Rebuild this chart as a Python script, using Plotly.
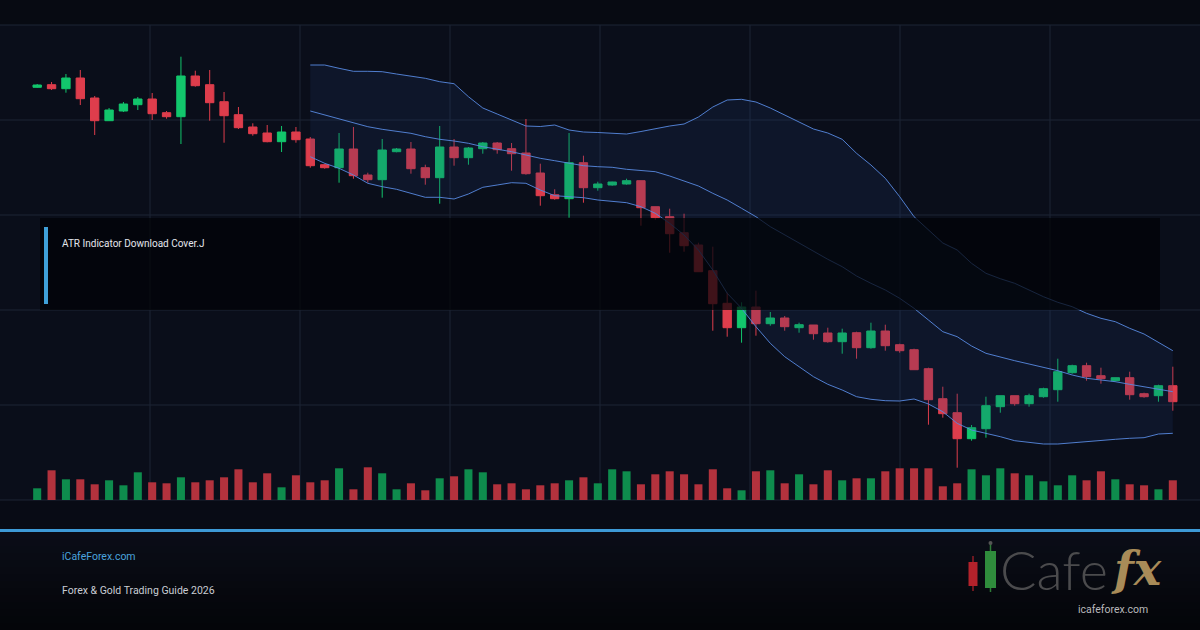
import plotly.graph_objects as go

# ---------------- data ----------------
bar_index = list(range(80))

open_ = [412.7, 415.3, 411.3, 422.0, 402.0, 379.3, 389.0, 395.3, 401.0, 387.3,
         383.3, 424.0, 415.3, 398.3, 385.3, 373.0, 367.0, 358.3, 368.0, 361.0,
         335.3, 332.3, 351.0, 325.0, 320.3, 348.3, 351.0, 332.3, 322.3, 353.0,
         342.3, 351.3, 357.0, 351.3, 347.0, 327.0, 305.3, 301.3, 337.3, 312.3,
         315.0, 316.0, 319.3, 293.3, 283.3, 267.3, 255.0, 229.3, 196.7, 172.3,
         193.0, 176.3, 182.0, 172.3, 175.0, 167.0, 158.3, 167.3, 152.3, 169.0,
         155.3, 150.3, 131.3, 101.3, 87.3, 61.3, 71.3, 93.3, 104.3, 96.3,
         103.3, 110.3, 127.3, 134.3, 124.3, 119.3, 122.3, 106.3, 104.3, 114.3]

high = [416.0, 418.0, 426.0, 430.0, 404.0, 392.0, 398.0, 403.0, 407.0, 389.0,
        443.3, 429.3, 430.0, 408.0, 393.0, 376.7, 375.0, 374.0, 373.0, 363.0,
        336.3, 367.0, 373.0, 327.3, 361.0, 352.0, 358.0, 335.3, 374.0, 361.0,
        353.0, 358.0, 358.0, 357.0, 381.0, 336.3, 310.7, 367.0, 344.3, 318.3,
        318.3, 321.3, 319.3, 293.3, 291.3, 286.3, 257.3, 253.3, 207.3, 197.7,
        209.3, 188.0, 184.0, 177.3, 175.0, 172.3, 171.3, 168.3, 177.3, 175.3,
        156.3, 151.3, 132.3, 113.3, 106.3, 75.0, 103.3, 104.3, 104.3, 106.3,
        112.3, 141.3, 135.3, 137.3, 132.3, 122.3, 128.3, 107.3, 115.3, 133.3]

low = [412.0, 410.0, 407.3, 395.0, 365.0, 379.3, 388.0, 390.0, 380.0, 381.3,
       356.0, 413.3, 379.3, 357.3, 371.0, 364.3, 357.7, 348.0, 357.3, 332.3,
       331.3, 317.3, 321.3, 317.3, 302.3, 347.7, 326.3, 315.3, 296.3, 334.3,
       335.3, 346.3, 346.3, 329.3, 325.3, 294.3, 300.3, 282.3, 297.3, 309.3,
       314.3, 315.3, 274.3, 280.3, 247.3, 248.3, 228.3, 169.3, 163.3, 157.3,
       164.3, 174.3, 169.3, 167.3, 160.3, 157.3, 146.3, 141.3, 151.3, 149.3,
       147.3, 130.3, 75.3, 82.3, 32.3, 59.3, 62.3, 87.3, 94.3, 93.3,
       102.3, 98.3, 126.3, 119.3, 116.3, 118.3, 100.3, 102.3, 98.3, 89.3]

close = [415.0, 411.3, 422.0, 401.3, 379.3, 390.0, 396.0, 401.0, 386.3, 383.3,
         424.0, 414.3, 397.3, 384.3, 372.3, 366.3, 358.3, 368.0, 360.3, 334.3,
         332.3, 351.0, 324.3, 320.3, 350.0, 351.0, 331.3, 322.3, 353.0, 342.3,
         352.0, 357.0, 350.3, 346.3, 326.3, 304.3, 301.3, 337.3, 312.3, 316.0,
         318.0, 319.3, 292.3, 282.3, 266.3, 254.3, 228.3, 196.3, 172.3, 193.0,
         176.3, 182.0, 173.3, 175.3, 166.3, 158.3, 167.0, 152.3, 169.0, 154.3,
         149.3, 130.3, 100.3, 86.3, 61.3, 72.3, 94.3, 104.3, 96.3, 104.3,
         111.3, 128.3, 134.3, 123.3, 121.3, 122.3, 105.3, 103.3, 114.3, 98.3]

volume = [1170, 2970, 2070, 2070, 1570, 1970, 1470, 2770, 1770, 1670,
          2270, 1770, 1970, 2270, 3070, 1770, 2670, 1270, 2470, 1770,
          1970, 3170, 1070, 3270, 2670, 1070, 1670, 970, 2170, 2370,
          3070, 2770, 1570, 1670, 1070, 1470, 1670, 1970, 2270, 1670,
          3070, 2870, 1570, 2570, 2870, 2570, 1570, 3070, 1170, 970,
          2870, 2970, 1670, 2570, 1570, 2970, 1970, 2170, 2170, 2870,
          3170, 3170, 3170, 1370, 1670, 3070, 2470, 3170, 2670, 2470,
          1870, 1470, 2470, 1970, 2870, 2070, 1570, 1470, 1070, 1970]

# Bollinger bands (20) shown from bar 19 onward
band_index = bar_index[19:]
bb_upper = [435.0, 435.0, 431.7, 428.7, 428.7, 428.3, 426.0, 424.0, 421.7, 418.3,
            416.3, 403.3, 392.0, 386.0, 380.0, 374.0, 373.5, 375.0, 370.0, 368.0,
            367.5, 367.0, 366.0, 368.5, 371.5, 374.0, 376.0, 383.0, 393.0, 400.0,
            400.7, 398.0, 392.0, 385.0, 378.0, 371.0, 367.0, 360.7, 346.7, 335.0,
            321.7, 303.3, 283.3, 270.0, 257.0, 250.0, 236.7, 226.7, 221.3, 216.7,
            210.0, 203.3, 197.7, 193.3, 186.7, 181.7, 178.3, 171.7, 166.0, 157.3,
            149.3]
bb_mid = [389.0, 385.0, 381.0, 376.7, 373.3, 370.7, 368.7, 366.7, 363.3, 360.7,
          359.0, 356.7, 353.3, 351.0, 348.3, 345.0, 341.7, 339.3, 336.7, 334.3,
          333.3, 332.7, 330.7, 329.3, 328.3, 324.0, 319.3, 314.0, 306.7, 300.0,
          291.7, 283.3, 273.3, 265.0, 256.7, 248.3, 240.7, 233.3, 224.0, 216.7,
          210.0, 201.7, 191.7, 180.0, 168.3, 163.3, 154.0, 146.7, 142.7, 139.3,
          136.0, 132.7, 129.3, 125.0, 121.7, 120.0, 118.3, 115.7, 113.3, 111.0,
          108.3]
bb_lower = [343.3, 336.7, 331.7, 325.0, 316.7, 313.3, 310.7, 306.7, 302.7, 302.7,
            301.0, 306.0, 312.7, 315.0, 317.3, 316.7, 310.0, 304.3, 303.3, 302.3,
            300.0, 299.0, 297.3, 293.3, 286.7, 276.7, 265.0, 250.0, 230.0, 206.7,
            191.7, 173.3, 156.7, 143.3, 133.3, 123.3, 115.7, 110.0, 103.3, 100.7,
            99.3, 99.0, 101.0, 96.0, 88.3, 76.7, 70.0, 66.7, 63.3, 59.3,
            57.3, 56.0, 56.0, 57.3, 58.3, 60.0, 60.7, 61.7, 62.3, 66.0,
            66.7]

title_text = "ATR Indicator Download Cover.J"
site_text = "iCafeForex.com"
guide_text = "Forex & Gold Trading Guide 2026"
logo_url = "icafeforex.com"

# ---------------- style ----------------
W, H = 1200, 630
GREEN = "#12c66c"
RED = "#de3d4c"
VOL_GREEN = "#0e8c4d"
VOL_RED = "#b3323d"
BAND = "rgba(88,138,225,0.9)"
GRID = "#1d2435"
ACCENT = "#3d9ad6"


def px(x):
    return x / W


def py(y):
    return 1 - y / H


shapes = []
# background strips
shapes.append(dict(type="rect", xref="paper", yref="paper", x0=0, x1=1, y0=py(25), y1=1,
                   fillcolor="#070a12", line_width=0, layer="below"))
shapes.append(dict(type="rect", xref="paper", yref="paper", x0=0, x1=1, y0=py(529), y1=py(500),
                   fillcolor="#080b15", line_width=0, layer="below"))
# footer gradient
steps = 14
top_c = (10, 13, 23)
bot_c = (4, 5, 9)
for i in range(steps):
    t = i / (steps - 1)
    c = tuple(int(round(top_c[k] + (bot_c[k] - top_c[k]) * t)) for k in range(3))
    y0 = 532 + (630 - 532) * i / steps
    y1 = 532 + (630 - 532) * (i + 1) / steps
    shapes.append(dict(type="rect", xref="paper", yref="paper", x0=0, x1=1, y0=py(y1), y1=py(y0),
                       fillcolor="rgb(%d,%d,%d)" % c, line_width=0, layer="below"))
# grid
for gy in [25, 120, 215, 310, 405, 500]:
    shapes.append(dict(type="line", xref="paper", yref="paper", x0=0, x1=1, y0=py(gy), y1=py(gy),
                       line=dict(color=GRID, width=1), layer="below"))
for gx in [150, 300, 450, 600, 750, 900, 1050]:
    shapes.append(dict(type="line", xref="paper", yref="paper", x0=px(gx), x1=px(gx), y0=py(500), y1=py(25),
                       line=dict(color=GRID, width=1), layer="below"))
# title overlay box
shapes.append(dict(type="rect", xref="paper", yref="paper", x0=px(40), x1=px(1160), y0=py(310), y1=py(218),
                   fillcolor="rgba(2,3,7,0.72)", line_width=0, layer="above"))
shapes.append(dict(type="rect", xref="paper", yref="paper", x0=px(44), x1=px(48), y0=py(304), y1=py(227),
                   fillcolor="#3fa0d8", line_width=0, layer="above"))
# footer accent line
shapes.append(dict(type="rect", xref="paper", yref="paper", x0=0, x1=1, y0=py(532), y1=py(529),
                   fillcolor=ACCENT, line_width=0, layer="above"))
# logo candles
shapes.append(dict(type="line", xref="paper", yref="paper", x0=px(973), x1=px(973), y0=py(591), y1=py(556),
                   line=dict(color="#8f1d24", width=1.5), layer="above"))
shapes.append(dict(type="rect", xref="paper", yref="paper", x0=px(968.5), x1=px(977.5), y0=py(586), y1=py(562),
                   fillcolor="#b3222b", line_width=0, layer="above"))
shapes.append(dict(type="line", xref="paper", yref="paper", x0=px(990.5), x1=px(990.5), y0=py(592), y1=py(542),
                   line=dict(color="#2d7a37", width=1.5), layer="above"))
shapes.append(dict(type="rect", xref="paper", yref="paper", x0=px(985), x1=px(996), y0=py(588), y1=py(551),
                   fillcolor="#2f8c3c", line_width=0, layer="above"))
shapes.append(dict(type="circle", xref="paper", yref="paper", x0=px(988.5), x1=px(992.5), y0=py(545), y1=py(541),
                   fillcolor="#555555", line_width=0, layer="above"))

annotations = [
    dict(text=title_text, x=px(60), y=py(244), xref="paper", yref="paper", xanchor="left", yanchor="middle",
         showarrow=False, font=dict(family="Roboto", size=10, color="#e3e6ec")),
    dict(text=site_text, x=px(60), y=py(556), xref="paper", yref="paper", xanchor="left", yanchor="middle",
         showarrow=False, font=dict(family="Roboto", size=10.5, color="#4aa3dd")),
    dict(text=guide_text, x=px(60), y=py(590), xref="paper", yref="paper", xanchor="left", yanchor="middle",
         showarrow=False, font=dict(family="Roboto", size=10.5, color="#c9cdd4")),
    dict(text="Cafe", x=px(998), y=py(569), xref="paper", yref="paper", xanchor="left", yanchor="middle",
         showarrow=False, font=dict(family="Lato", size=54, color="#4b4b4d", weight=300)),
    dict(text="<i><b>fx</b></i>", x=px(1136), y=py(569), xref="paper", yref="paper", xanchor="center",
         yanchor="middle", showarrow=False, font=dict(family="DejaVu Serif", size=46, color="#a88b58")),
    dict(text=logo_url, x=px(1113), y=py(609), xref="paper", yref="paper", xanchor="center", yanchor="middle",
         showarrow=False, font=dict(family="Roboto", size=10.5, color="#b9b9bb")),
]

vol_colors = [VOL_GREEN if c >= o else VOL_RED for o, c in zip(open_, close)]

fig = go.Figure()
fig.add_trace(go.Scatter(x=band_index, y=bb_lower, mode="lines", line=dict(color=BAND, width=1),
                         hoverinfo="skip", showlegend=False))
fig.add_trace(go.Scatter(x=band_index, y=bb_upper, mode="lines", line=dict(color=BAND, width=1),
                         fill="tonexty", fillcolor="rgba(32,56,112,0.2)", hoverinfo="skip", showlegend=False))
fig.add_trace(go.Scatter(x=band_index, y=bb_mid, mode="lines", line=dict(color=BAND, width=1),
                         hoverinfo="skip", showlegend=False))
fig.add_trace(go.Bar(x=bar_index, y=volume, yaxis="y2", marker=dict(color=vol_colors, line_width=0),
                     width=0.56, hoverinfo="skip", showlegend=False))
fig.add_trace(go.Candlestick(x=bar_index, open=open_, high=high, low=low, close=close,
                             increasing=dict(line=dict(color=GREEN, width=1), fillcolor=GREEN),
                             decreasing=dict(line=dict(color=RED, width=1), fillcolor=RED),
                             whiskerwidth=0, hoverinfo="skip", showlegend=False))

fig.update_layout(
    width=W, height=H,
    margin=dict(l=0, r=0, t=0, b=0),
    paper_bgcolor="#0a0e1a",
    plot_bgcolor="rgba(0,0,0,0)",
    showlegend=False,
    boxgap=0.17,
    xaxis=dict(domain=[px(30), px(1180)], range=[-0.5, 79.5], visible=False,
               rangeslider=dict(visible=False), fixedrange=True),
    yaxis=dict(domain=[py(500), py(25)], range=[0, 475], visible=False, fixedrange=True),
    yaxis2=dict(overlaying="y", range=[0, 47500], visible=False, fixedrange=True),
    shapes=shapes,
    annotations=annotations,
)

fig.write_html("out.html")
